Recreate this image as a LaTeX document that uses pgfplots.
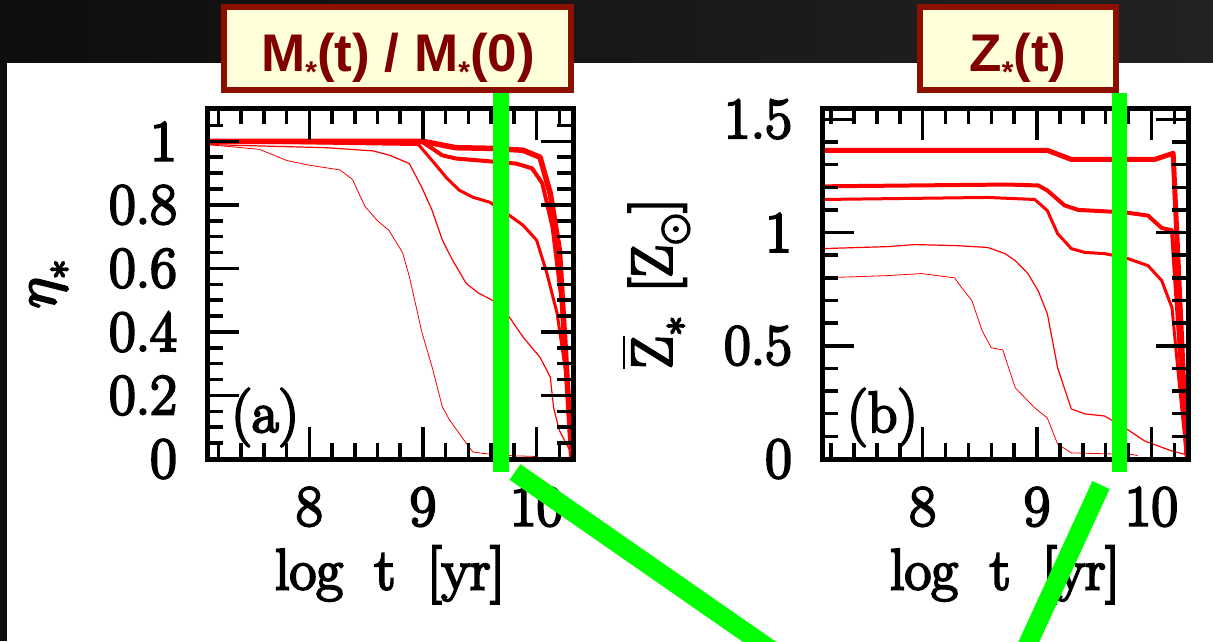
\documentclass[border=0pt]{standalone}
\usepackage{pgfplots}
\pgfplotsset{compat=1.18}
\usepackage{fontspec}
\usepackage{unicode-math}
\setmainfont{Latin Modern Roman}
\setmathfont{Latin Modern Math}[FakeBold=4]
\newfontfamily\axfont{Latin Modern Roman}[FakeBold=4]
\newfontfamily\titlefont{Liberation Sans}
\definecolor{bandL}{RGB}{14,14,14}
\definecolor{bandR}{RGB}{34,34,34}
\definecolor{cream}{RGB}{255,255,218}
\definecolor{boxred}{RGB}{140,16,0}
\definecolor{titlered}{RGB}{128,0,0}
\definecolor{slidegreen}{RGB}{0,255,0}

\pgfplotstableread{
x y
7.10 0.99
7.56 0.975
7.80 0.94
8.00 0.925
8.27 0.91
8.38 0.88
8.49 0.795
8.60 0.75
8.70 0.72
8.82 0.65
8.88 0.575
8.99 0.40
9.08 0.29
9.17 0.165
9.23 0.125
9.38 0.05
9.44 0.022
9.59 0.015
9.80 0.01
10.00 0.008
}\taA
\pgfplotstableread{
x y
7.10 0.99
8.15 0.98
8.56 0.97
8.71 0.956
8.88 0.93
8.99 0.855
9.08 0.783
9.17 0.69
9.26 0.626
9.38 0.553
9.49 0.522
9.61 0.50
9.76 0.447
9.88 0.384
10.03 0.32
10.12 0.258
10.15 0.16
10.20 0.09
10.29 0.028
10.31 0.0
}\taB
\pgfplotstableread{
x y
7.10 1.0
8.96 0.99
9.08 0.94
9.21 0.884
9.32 0.846
9.44 0.824
9.59 0.808
9.76 0.767
9.88 0.736
10.00 0.689
10.09 0.585
10.18 0.459
10.27 0.239
10.31 0.0
}\taC
\pgfplotstableread{
x y
7.10 1.0
9.00 0.997
9.17 0.956
9.29 0.946
9.59 0.937
9.82 0.93
9.96 0.915
10.05 0.868
10.14 0.73
10.22 0.50
10.31 0.0
}\taD
\pgfplotstableread{
x y
7.10 1.0
9.00 1.0
9.29 0.98
9.59 0.978
9.88 0.972
10.03 0.95
10.12 0.836
10.20 0.657
10.31 0.0
}\taE

\pgfplotstableread{
x y
7.12 1.363
9.09 1.363
9.30 1.323
10.03 1.323
10.19 1.35
10.31 0.02
}\tbA
\pgfplotstableread{
x y
7.12 1.204
8.74 1.212
9.01 1.208
9.09 1.186
9.24 1.12
9.36 1.10
9.77 1.089
9.97 1.075
10.09 1.02
10.18 1.01
10.31 0.0
}\tbB
\pgfplotstableread{
x y
7.12 1.146
8.57 1.155
8.98 1.146
9.09 1.097
9.18 0.995
9.30 0.929
9.42 0.912
9.59 0.907
9.77 0.889
9.97 0.854
10.09 0.788
10.18 0.668
10.23 0.403
10.31 0.0
}\tbC
\pgfplotstableread{
x y
7.12 0.929
7.70 0.938
7.93 0.947
8.31 0.942
8.57 0.934
8.72 0.907
8.81 0.876
8.92 0.819
9.01 0.743
9.09 0.642
9.18 0.403
9.30 0.221
9.42 0.199
9.59 0.19
9.77 0.137
9.94 0.08
10.18 0.035
10.30 0.02
}\tbD
\pgfplotstableread{
x y
7.12 0.80
7.70 0.81
7.99 0.819
8.28 0.80
8.34 0.757
8.43 0.70
8.52 0.566
8.60 0.491
8.70 0.482
8.81 0.314
8.98 0.226
9.09 0.181
9.18 0.066
9.30 0.027
9.83 0.02
9.88 0.015
}\tbE

\pgfplotsset{
  slide/.style={
    scale only axis, width=366pt, height=351pt,
    anchor=south west,
    axis on top,
    axis line style={line width=5pt, black},
    tick style={line width=3.5pt, black},
    major tick length=32pt, minor tick length=16pt,
    xtick={8,9,10}, minor xtick={7.2,7.4,...,10.21},
    xmax=10.32,
    tick label style={font=\axfont\fontsize{58}{58}\selectfont, inner sep=0pt},
    /pgf/number format/assume math mode=true,
    xticklabel style={yshift=-28pt},
    yticklabel style={xshift=-30pt},
    label style={font=\axfont\fontsize{58}{60}\selectfont},
    xlabel={log\hspace{0.55em}t\hspace{0.55em}[yr]},
    xlabel style={at={(rel axis cs:0.5,-0.33)}, anchor=center},
    every axis plot/.append style={red, line join=round, no markers},
  }
}

\begin{document}
\begin{tikzpicture}[x=1pt,y=1pt]
% slide background
\shade[left color=bandL, right color=bandR] (0,578) rectangle (1213,641);
\fill[white] (7,0) rectangle (1213,578);
\fill[bandL] (0,0) rectangle (7,578);

% panel (a)
\begin{axis}[slide, at={(207pt,182pt)},
  xmin=7.1, ymin=0, ymax=1.105,
  ytick={0,0.2,0.4,0.6,0.8,1}, minor ytick={0,0.05,...,1.101},
  ylabel={$\eta_*$},
  ylabel style={at={(rel axis cs:-0.43,0.5)}, anchor=center},
]
\addplot[line width=0.8pt] table {\taA};
\addplot[line width=1.2pt] table {\taB};
\addplot[line width=3pt] table {\taC};
\addplot[line width=4pt] table {\taD};
\addplot[line width=5.5pt] table {\taE};
\node[anchor=base west, inner sep=0pt, font=\axfont\fontsize{58}{58}\selectfont] at (rel axis cs:0.066,0.077) {(a)};
\end{axis}

% panel (b)
\begin{axis}[slide, at={(822pt,182pt)},
  xmin=7.12, ymin=0, ymax=1.55,
  ytick={0,0.5,1,1.5}, minor ytick={0,0.1,...,1.51},
  ylabel={$\overline{\mbox{Z}}_*$\hspace{0.4em}[Z$_\odot$]},
  ylabel style={at={(rel axis cs:-0.456,0.5)}, anchor=center},
]
\addplot[line width=0.8pt] table {\tbE};
\addplot[line width=1.2pt] table {\tbD};
\addplot[line width=3pt] table {\tbC};
\addplot[line width=4pt] table {\tbB};
\addplot[line width=5pt] table {\tbA};
\node[anchor=base west, inner sep=0pt, font=\axfont\fontsize{58}{58}\selectfont] at (rel axis cs:0.068,0.077) {(b)};
\end{axis}

% green markers
\begin{scope}
\clip (0,0) rectangle (1213,641);
\draw[slidegreen, line width=16pt] (501,548) -- (501,169);
\draw[slidegreen, line width=15pt] (1119,548) -- (1119,169);
\draw[slidegreen, line width=19pt] (515,169) -- (787,-20);
\draw[slidegreen, line width=19pt] (1101,156) -- (1020,-20);
\end{scope}

% title boxes
\draw[boxred, line width=6pt, fill=cream] (224,551) rectangle (571,634);
\draw[boxred, line width=6pt, fill=cream] (920,551) rectangle (1116,634);
\node[anchor=base, inner sep=0pt, text=titlered, font=\titlefont\bfseries\fontsize{53}{53}\selectfont]
  at (398,569) {M\raisebox{-0.2em}{\fontsize{30}{30}\selectfont *}(t) / M\raisebox{-0.2em}{\fontsize{30}{30}\selectfont *}(0)};
\node[anchor=base, inner sep=0pt, text=titlered, font=\titlefont\bfseries\fontsize{53}{53}\selectfont]
  at (1018,569) {Z\raisebox{-0.2em}{\fontsize{30}{30}\selectfont *}(t)};

\pgfresetboundingbox
\useasboundingbox (0,0) rectangle (1213,641);
\end{tikzpicture}
\end{document}
